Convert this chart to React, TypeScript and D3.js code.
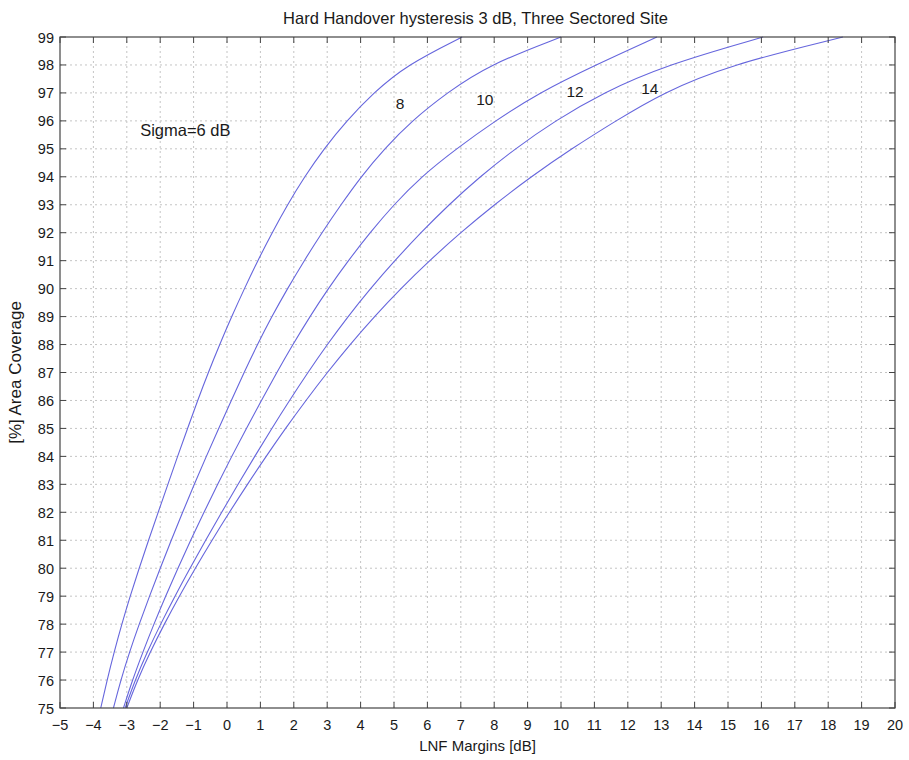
import React, { useEffect, useRef } from "react";
import * as d3 from "d3";

// coverage levels (y), one LNF margin (x) per level for each curve
const coverage = [75, 76, 77, 78, 79, 80, 81, 82, 83, 84, 85, 86, 87, 88, 89, 90, 91, 92, 93, 94, 95, 96, 97, 98, 99];

const marginA = [-3.78, -3.59, -3.38, -3.15, -2.9, -2.63, -2.35, -2.06, -1.77, -1.48, -1.18, -0.88, -0.56, -0.22, 0.14, 0.52, 0.92, 1.35, 1.81, 2.32, 2.9, 3.58, 4.38, 5.38, 7.04];
const marginB = [-3.4, -3.18, -2.92, -2.63, -2.32, -2.0, -1.67, -1.33, -0.98, -0.62, -0.25, 0.13, 0.51, 0.91, 1.34, 1.81, 2.31, 2.84, 3.41, 4.01, 4.71, 5.53, 6.58, 7.83, 10.0];
const marginC = [-3.1, -2.83, -2.52, -2.19, -1.84, -1.47, -1.09, -0.69, -0.28, 0.14, 0.58, 1.03, 1.49, 1.97, 2.48, 3.03, 3.63, 4.28, 4.99, 5.81, 6.86, 8.03, 9.33, 11.03, 12.87];
const marginD = [-3.05, -2.75, -2.39, -1.99, -1.56, -1.11, -0.64, -0.16, 0.33, 0.83, 1.34, 1.87, 2.42, 3.0, 3.62, 4.29, 5.02, 5.8, 6.64, 7.57, 8.62, 9.82, 11.24, 13.14, 16.05];
const marginE = [-3.0, -2.68, -2.3, -1.88, -1.43, -0.95, -0.45, 0.07, 0.61, 1.17, 1.75, 2.36, 3.0, 3.68, 4.41, 5.2, 6.06, 6.99, 8.0, 9.1, 10.31, 11.64, 13.04, 15.04, 18.44];

const curves = [marginA, marginB, marginC, marginD, marginE];

const xTicks = d3.range(-5, 21);
const yTicks = d3.range(75, 100);

// curve annotations in data units
const notes = [
  { text: "Sigma=6 dB", x: -2.6, y: 95.67, anchor: "start", size: 16.5 },
  { text: "8", x: 5.18, y: 96.64, anchor: "middle", size: 15.5 },
  { text: "10", x: 7.72, y: 96.78, anchor: "middle", size: 15.5 },
  { text: "12", x: 10.42, y: 97.07, anchor: "middle", size: 15.5 },
  { text: "14", x: 12.66, y: 97.18, anchor: "middle", size: 15.5 },
];

const title = "Hard Handover hysteresis 3 dB, Three Sectored Site";
const xTitle = "LNF Margins [dB]";
const yTitle = "[%] Area Coverage";

const W = 909;
const H = 760;
const m = { top: 37, right: 14, bottom: 52, left: 60 };
const font = "'Liberation Sans', Arial, sans-serif";

export default function App() {
  const ref = useRef<SVGSVGElement>(null);

  useEffect(() => {
    const svg = d3.select(ref.current);
    svg.selectAll("*").remove();

    const x = d3.scaleLinear().domain([-5, 20]).range([m.left, W - m.right]);
    const y = d3.scaleLinear().domain([75, 99]).range([H - m.bottom, m.top]);

    svg.append("rect").attr("width", W).attr("height", H).attr("fill", "#fff");

    // grid
    const grid = svg.append("g").attr("stroke", "#c4c4c4").attr("stroke-dasharray", "2,3").attr("stroke-width", 1);
    xTicks.slice(1, -1).forEach(t => {
      grid.append("line").attr("x1", x(t)).attr("x2", x(t)).attr("y1", y(75)).attr("y2", y(99));
    });
    yTicks.slice(1, -1).forEach(t => {
      grid.append("line").attr("x1", x(-5)).attr("x2", x(20)).attr("y1", y(t)).attr("y2", y(t));
    });

    // curves
    const line = d3.line<number>()
      .x(d => x(d))
      .y((_, i) => y(coverage[i]))
      .curve(d3.curveBasis);

    svg.append("g")
      .selectAll("path")
      .data(curves)
      .join("path")
      .attr("d", d => line(d))
      .attr("fill", "none")
      .attr("stroke", "#6666dd")
      .attr("stroke-width", 1.1);

    // box with inward ticks on all sides
    const tl = 6;
    const ticks = svg.append("g").attr("stroke", "#444").attr("stroke-width", 1);
    xTicks.forEach(t => {
      ticks.append("line").attr("x1", x(t)).attr("x2", x(t)).attr("y1", y(75)).attr("y2", y(75) - tl);
      ticks.append("line").attr("x1", x(t)).attr("x2", x(t)).attr("y1", y(99)).attr("y2", y(99) + tl);
    });
    yTicks.forEach(t => {
      ticks.append("line").attr("x1", x(-5)).attr("x2", x(-5) + tl).attr("y1", y(t)).attr("y2", y(t));
      ticks.append("line").attr("x1", x(20)).attr("x2", x(20) - tl).attr("y1", y(t)).attr("y2", y(t));
    });
    svg.append("rect")
      .attr("x", x(-5)).attr("y", y(99))
      .attr("width", x(20) - x(-5)).attr("height", y(75) - y(99))
      .attr("fill", "none").attr("stroke", "#444").attr("stroke-width", 1.2);

    const fmt = d3.format("d");
    const labels = svg.append("g").attr("font-family", font).attr("fill", "#1a1a1a");
    xTicks.forEach(t => {
      labels.append("text").attr("x", x(t)).attr("y", y(75) + 22).attr("font-size", 14.5)
        .attr("text-anchor", "middle").text(fmt(t));
    });
    yTicks.forEach(t => {
      labels.append("text").attr("x", x(-5) - 6).attr("y", y(t) + 5.5).attr("font-size", 14.5)
        .attr("text-anchor", "end").text(fmt(t));
    });

    labels.append("text").attr("x", (x(-5) + x(20)) / 2 - 2).attr("y", 24).attr("font-size", 16.5)
      .attr("text-anchor", "middle").text(title);
    labels.append("text").attr("x", (x(-5) + x(20)) / 2).attr("y", 751).attr("font-size", 15)
      .attr("text-anchor", "middle").text(xTitle);
    labels.append("text").attr("font-size", 17)
      .attr("transform", `translate(21,${(y(75) + y(99)) / 2}) rotate(-90)`)
      .attr("text-anchor", "middle").text(yTitle);

    notes.forEach(n => {
      labels.append("text").attr("x", x(n.x)).attr("y", y(n.y) + 6).attr("font-size", n.size)
        .attr("text-anchor", n.anchor).text(n.text);
    });
  }, []);

  return (
    <svg ref={ref} width={W} height={H} style={{ position: "absolute", left: 0, top: 0 }} />
  );
}
